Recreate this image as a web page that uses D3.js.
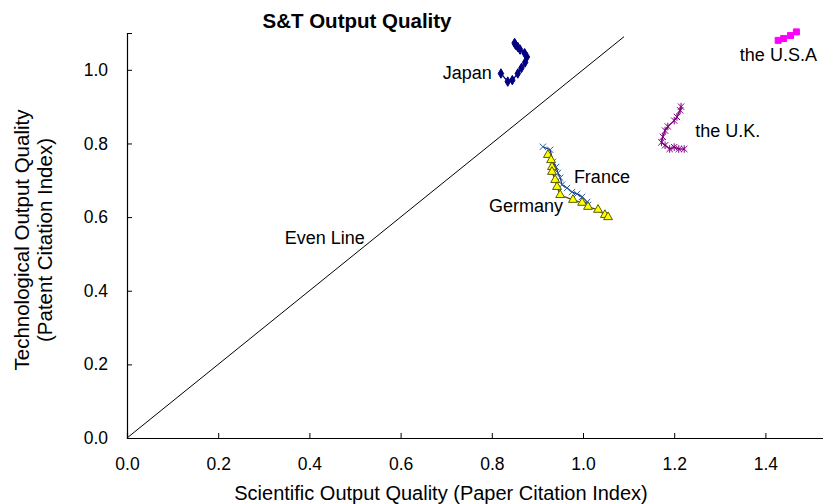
<!DOCTYPE html>
<html lang="en">
<head>
<meta charset="utf-8">
<title>S&amp;T Output Quality</title>
<script src="https://d3js.org/d3.v7.min.js"></script>
<style type="text/css">
  body { margin: 0; background: #fff; }
  text { font-family: "Liberation Sans", Arial, sans-serif; }
</style>
</head>
<body>
<script type="text/javascript">

  // series values, [paper citation index, patent citation index]
  var japan = [[0.82, 0.99], [0.835, 0.968], [0.845, 0.972], [0.857, 0.99], [0.865, 1.005], [0.873, 1.02],
               [0.877, 1.035], [0.872, 1.045], [0.862, 1.055], [0.857, 1.062], [0.852, 1.068], [0.85, 1.073]];
  var usa = [[1.428, 1.08], [1.44, 1.085], [1.455, 1.093], [1.468, 1.103]];
  var uk = [[1.215, 0.9], [1.213, 0.89], [1.206, 0.872], [1.2, 0.862], [1.186, 0.846], [1.18, 0.835],
            [1.175, 0.818], [1.172, 0.803], [1.18, 0.795], [1.19, 0.785], [1.2, 0.79], [1.21, 0.785], [1.222, 0.785]];
  var france = [[0.912, 0.791], [0.928, 0.783], [0.934, 0.75], [0.941, 0.736], [0.945, 0.72], [0.95, 0.707],
                [0.954, 0.688], [0.965, 0.679], [0.976, 0.668], [0.987, 0.663], [0.998, 0.655], [1.009, 0.641], [1.011, 0.633]];
  var germany = [[0.923, 0.769], [0.93, 0.755], [0.932, 0.736], [0.932, 0.723], [0.939, 0.701], [0.943, 0.682],
                 [0.95, 0.66], [0.978, 0.647], [0.998, 0.639], [1.011, 0.628], [1.033, 0.62], [1.048, 0.606], [1.055, 0.6]];
  var evenLine = [[0, 0], [1.09, 1.09]];

  var xTicks = [0, 0.2, 0.4, 0.6, 0.8, 1.0, 1.2, 1.4];
  var yTicks = [0, 0.2, 0.4, 0.6, 0.8, 1.0];

  // labels: text, x, y (data units), anchor
  var labels = [
    ["Japan", 0.80, 0.976, "end"],
    ["the U.S.A", 1.344, 1.024, "start"],
    ["the U.K.", 1.246, 0.818, "start"],
    ["France", 0.98, 0.693, "start"],
    ["Germany", 0.794, 0.614, "start"],
    ["Even Line", 0.346, 0.527, "start"]
  ];

  var W = 823, H = 504;
  var svg = d3.select("body").append("svg").attr("width", W).attr("height", H);

  var x = d3.scaleLinear().domain([0, 1.6]).range([127, 127 + 1.6 * 456]);
  var y = d3.scaleLinear().domain([0, 1.1]).range([438, 33]);

  // axes (ticks point into the plot)
  var xAxis = d3.axisBottom(x).tickValues(xTicks).tickFormat(d3.format(".1f")).tickSize(-5).tickPadding(20);
  var gx = svg.append("g").attr("transform", "translate(0,438)").call(xAxis);
  var yAxis = d3.axisLeft(y).tickValues(yTicks).tickFormat(d3.format(".1f")).tickSize(-5).tickPadding(19);
  var gy = svg.append("g").attr("transform", "translate(127,0)").call(yAxis);
  [gx, gy].forEach(function(g) {
    g.select(".domain").attr("stroke", "#000").attr("stroke-width", 1.2);
    g.selectAll(".tick line").attr("stroke", "#000");
    g.selectAll(".tick text").attr("font-family", "Liberation Sans, Arial, sans-serif")
      .attr("font-size", "17.5px").attr("fill", "#000");
  });

  var line = d3.line().x(function(d) { return x(d[0]); }).y(function(d) { return y(d[1]); });

  svg.append("path").datum(evenLine).attr("d", line).attr("fill", "none").attr("stroke", "#000").attr("stroke-width", 1);

  function drawSeries(data, lineColor, symbol, size, fill, stroke) {
    svg.append("path").datum(data).attr("d", line).attr("fill", "none")
      .attr("stroke", lineColor).attr("stroke-width", 1.3);
    svg.append("g").selectAll("path").data(data).enter().append("path")
      .attr("transform", function(d) { return "translate(" + x(d[0]) + "," + y(d[1]) + ")"; })
      .attr("d", d3.symbol().type(symbol).size(size))
      .attr("fill", fill)
      .attr("stroke", stroke)
      .attr("stroke-width", 1);
  }

  var asterisk = {
    draw: function(ctx, size) {
      var r = Math.sqrt(size) / 2;
      ctx.moveTo(-r, -r); ctx.lineTo(r, r);
      ctx.moveTo(-r, r); ctx.lineTo(r, -r);
      ctx.moveTo(0, -r * 1.2); ctx.lineTo(0, r * 1.2);
    }
  };
  var cross = {
    draw: function(ctx, size) {
      var r = Math.sqrt(size) / 2;
      ctx.moveTo(-r, -r); ctx.lineTo(r, r);
      ctx.moveTo(-r, r); ctx.lineTo(r, -r);
    }
  };

  drawSeries(japan, "#000080", d3.symbolDiamond, 26, "#000080", "#000080");
  drawSeries(usa, "#ff00ff", d3.symbolSquare, 36, "#ff00ff", "#ff00ff");
  drawSeries(uk, "#800080", asterisk, 40, "none", "#800080");
  drawSeries(france, "#14307a", cross, 40, "none", "#2a5fb0");
  drawSeries(germany, "#4a4a10", d3.symbolTriangle, 34, "#ffff00", "#5a5a00");

  // annotations
  svg.append("g").selectAll("text").data(labels).enter().append("text")
    .attr("x", function(d) { return x(d[1]); })
    .attr("y", function(d) { return y(d[2]); })
    .attr("text-anchor", function(d) { return d[3]; })
    .attr("font-size", "18px")
    .attr("fill", "#000")
    .text(function(d) { return d[0]; });

  // titles
  svg.append("text").attr("x", 357).attr("y", 28).attr("text-anchor", "middle")
    .attr("font-size", "20.5px").attr("font-weight", "bold").text("S&T Output Quality");

  svg.append("text").attr("x", 441).attr("y", 500).attr("text-anchor", "middle")
    .attr("font-size", "20px").text("Scientific Output Quality (Paper Citation Index)");

  svg.append("text").attr("transform", "translate(29,240) rotate(-90)").attr("text-anchor", "middle")
    .attr("font-size", "20.5px").text("Technological Output Quality");
  svg.append("text").attr("transform", "translate(52,240) rotate(-90)").attr("text-anchor", "middle")
    .attr("font-size", "20.5px").text("(Patent Citation Index)");

</script>
</body>
</html>
